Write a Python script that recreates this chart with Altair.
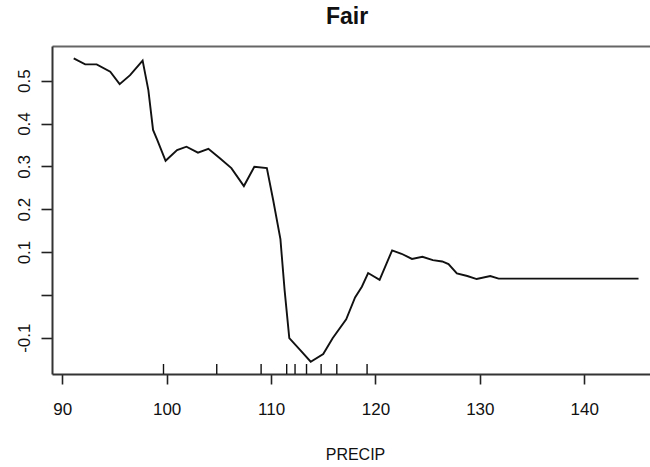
import altair as alt
import pandas as pd

# Partial dependence curve
precip = [91.1, 92.2, 93.3, 94.6, 95.5, 96.5, 97.7, 98.25, 98.7, 99.1, 99.9,
          101.0, 101.9, 103.0, 104.0, 105.1, 106.2, 107.4, 108.4, 109.6,
          110.2, 110.9, 111.3, 111.75, 112.8, 113.8, 115.0, 115.9, 117.2,
          118.05, 118.7, 119.3, 120.4, 121.6, 122.5, 123.5, 124.5, 125.5,
          126.4, 127.0, 127.8, 128.8, 129.7, 131.0, 131.8, 145.2]
effect = [0.552, 0.538, 0.538, 0.521, 0.492, 0.513, 0.547, 0.478, 0.385, 0.362,
          0.313, 0.338, 0.346, 0.332, 0.341, 0.319, 0.296, 0.254, 0.299, 0.296,
          0.222, 0.130, 0.011, -0.101, -0.129, -0.156, -0.138, -0.101, -0.057,
          -0.006, 0.019, 0.051, 0.035, 0.104, 0.096, 0.084, 0.089, 0.081,
          0.078, 0.072, 0.050, 0.044, 0.037, 0.044, 0.038, 0.038]

# Rug (decile) positions along the x axis
rug_precip = [99.7, 104.8, 109.05, 111.5, 112.3, 113.4, 114.8, 116.3, 119.2]

x_ticks = [90, 100, 110, 120, 130, 140]
y_ticks = [-0.1, 0.0, 0.1, 0.2, 0.3, 0.4, 0.5]

W, H = 598, 328
FONT = "Liberation Sans"
INK = "#111111"

line_df = pd.DataFrame({"PRECIP": precip, "effect": effect})
rug_df = pd.DataFrame({"PRECIP": rug_precip})

xscale = alt.Scale(domain=[89.02, 146.3], nice=False, zero=False)
yscale = alt.Scale(domain=[-0.1847, 0.581], nice=False, zero=False)

line = alt.Chart(line_df).mark_line(color=INK, strokeWidth=1.9).encode(
    x=alt.X("PRECIP:Q", scale=xscale, title="PRECIP",
            axis=alt.Axis(values=x_ticks, orient="bottom", grid=False,
                          tickSize=10, tickWidth=1.6, tickColor="#222",
                          domainColor="#333", domainWidth=2,
                          labelFont=FONT, labelFontSize=17, labelColor=INK,
                          labelPadding=17, labelFlush=False,
                          titleFont=FONT, titleFontSize=16, titleFontWeight="normal",
                          titleColor=INK, titleX=303, titleY=85,
                          titleAlign="center", titleBaseline="alphabetic")),
    y=alt.Y("effect:Q", scale=yscale, title="",
            axis=alt.Axis(values=y_ticks, grid=False, tickSize=11, tickWidth=1.6,
                          tickColor="#222", domainColor="#333", domainWidth=2,
                          labelFont=FONT, labelFontSize=17, labelColor=INK,
                          labelAngle=270, labelAlign="center", labelBaseline="bottom",
                          labelPadding=8, labelFlush=False,
                          labelExpr="datum.value == 0 ? '' : (datum.value < 0 ? '-' : '') + format(abs(datum.value), '.1f')")),
)

rug = alt.Chart(rug_df).mark_rule(color=INK, strokeWidth=1.4).encode(
    x=alt.X("PRECIP:Q", scale=xscale, title="",
            axis=alt.Axis(orient="top", labels=False, ticks=False, grid=False,
                          domainColor="#666", domainWidth=2)),
    y=alt.value(H),
    y2=alt.value(H - 10),
)

chart = alt.layer(line, rug).resolve_axis(x="independent").properties(
    width=W, height=H,
    title=alt.TitleParams("Fair", font=FONT, fontSize=23, fontWeight="bold",
                          color=INK, anchor="middle", offset=-1, dx=-4,
                          baseline="alphabetic"),
    padding={"left": 52, "top": 46, "right": 0, "bottom": 93},
    autosize=alt.AutoSizeParams(type="none"),
    background="white",
).configure_view(stroke=None)

chart.save("out.html", embed_options={"renderer": "svg", "actions": False})
